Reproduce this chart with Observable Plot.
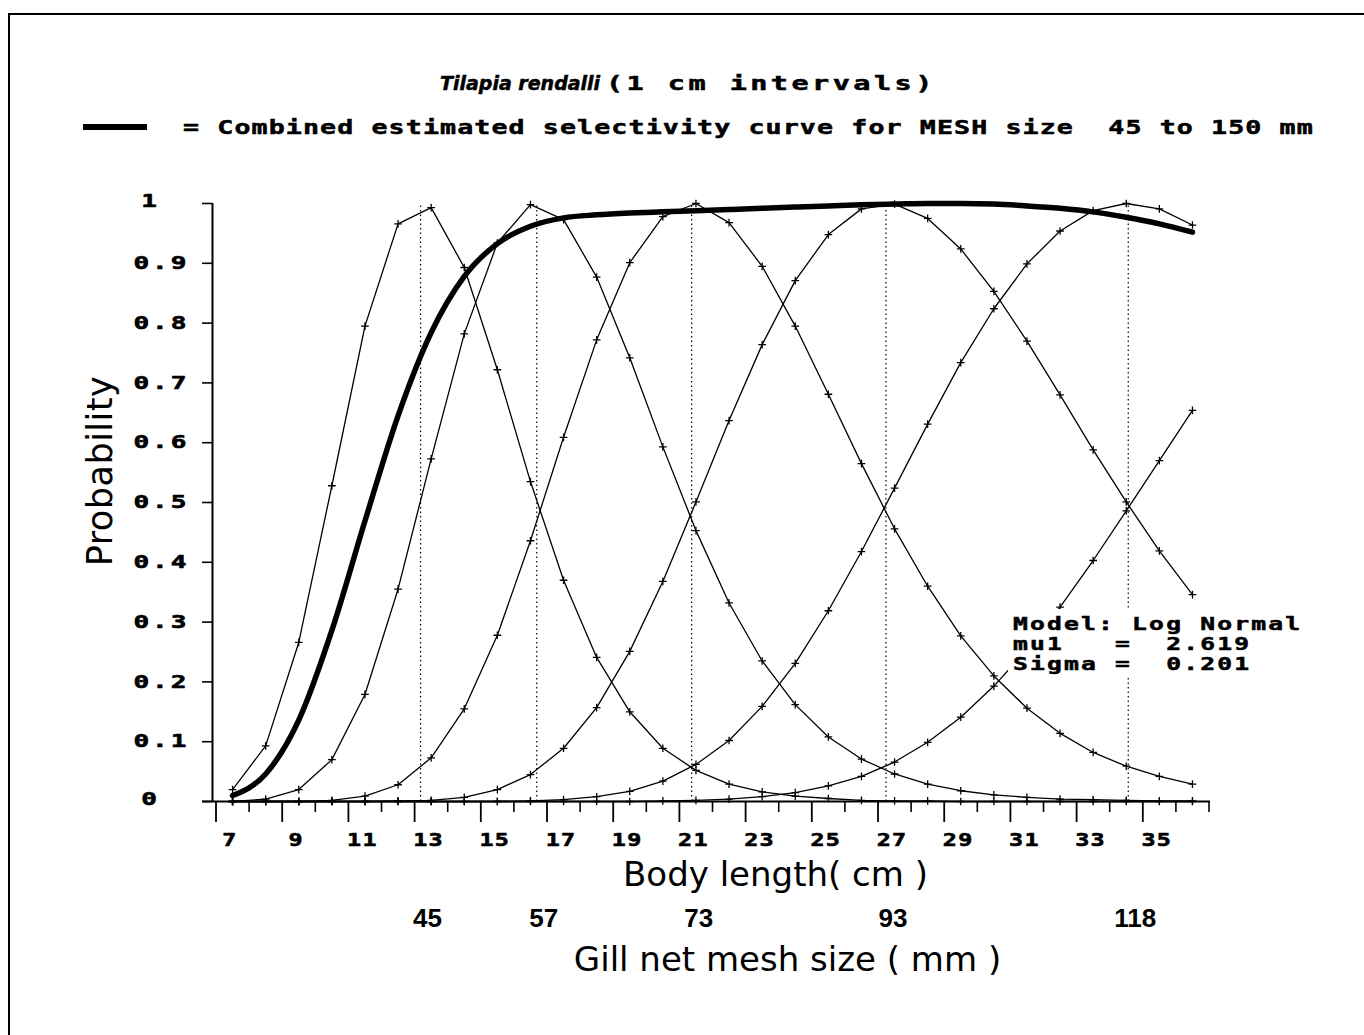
<!DOCTYPE html>
<html>
<head>
<meta charset="utf-8">
<script src="https://cdn.jsdelivr.net/npm/d3@7"></script>
<script src="https://cdn.jsdelivr.net/npm/@observablehq/plot@0.6"></script>
<style>
  body { margin: 0; background: #fff; }
  #wrap { position: relative; width: 1364px; height: 1035px; overflow: hidden; background: #fff; }
  #head { position: relative; width: 1364px; height: 160px; }
  .mono { position: absolute; font-family: "DejaVu Sans Mono", monospace; font-weight: bold; color: #000;
          white-space: pre; line-height: 1; transform-origin: 0 0; -webkit-text-stroke: 0.5px #000; }
  .ital { font-family: "DejaVu Sans", sans-serif; font-style: italic; font-weight: bold; }
  #box { position: absolute; left: 1008px; top: 609px; width: 302px; height: 68px; background: #fff; }
  #ylab { position: absolute; left: 100px; top: 471px; font-family: "DejaVu Sans", sans-serif; font-size: 35px;
          letter-spacing: 0.5px; white-space: pre; transform: translate(-50%, -50%) rotate(-90deg); line-height: 1; }
</style>
</head>
<body>
<div id="wrap">
  <div style="position:absolute;left:9px;top:13px;width:1355px;height:2px;background:#000"></div>
  <div style="position:absolute;left:8px;top:13px;width:2px;height:1022px;background:#000"></div>
  <div id="head">
    <div class="mono" style="left:440px;top:74px;font-size:19px;"><span class="ital">Tilapia rendalli</span></div>
    <div class="mono" style="left:606px;top:74px;font-size:19px;letter-spacing:2.3px;transform:scaleX(1.5)">(1 cm intervals)</div>
    <div style="position:absolute;left:83px;top:124px;width:64px;height:6px;background:#000"></div>
    <div class="mono" style="left:183px;top:118px;font-size:19px;letter-spacing:0.8px;transform:scaleX(1.4)">= Combined estimated selectivity curve for MESH size  45 to 150 mm</div>
  </div>
  <div id="chart"></div>
  <div id="ylab">Probability</div>
  <div id="box">
    <div class="mono" style="left:5px;top:5px;font-size:17px;letter-spacing:1.5px;transform:scaleX(1.45);line-height:20px">Model: Log Normal
mu1   =  2.619
Sigma =  0.201</div>
  </div>
</div>
<script>
// Body length class midpoints (cm)
const lengths = [7.5, 8.5, 9.5, 10.5, 11.5, 12.5, 13.5, 14.5, 15.5, 16.5, 17.5, 18.5, 19.5, 20.5, 21.5,
                 22.5, 23.5, 24.5, 25.5, 26.5, 27.5, 28.5, 29.5, 30.5, 31.5, 32.5, 33.5, 34.5, 35.5, 36.5];
const meshSizes = [45, 57, 73, 93, 118, 150];
const mesh45  = [0.020, 0.093, 0.266, 0.528, 0.795, 0.966, 0.993, 0.893, 0.722, 0.535, 0.370, 0.241, 0.150, 0.089, 0.052,
                 0.029, 0.016, 0.009, 0.005, 0.002, 0.001, 0.001, 0, 0, 0, 0, 0, 0, 0, 0];
const mesh57  = [0.000, 0.004, 0.020, 0.070, 0.179, 0.355, 0.573, 0.782, 0.934, 0.998, 0.973, 0.877, 0.742, 0.593, 0.453,
                 0.332, 0.235, 0.162, 0.108, 0.071, 0.046, 0.029, 0.018, 0.011, 0.007, 0.004, 0.003, 0.002, 0.001, 0.001];
const mesh73  = [0, 0, 0, 0.002, 0.009, 0.028, 0.073, 0.155, 0.278, 0.436, 0.609, 0.772, 0.901, 0.978, 1.000,
                 0.968, 0.895, 0.795, 0.681, 0.565, 0.456, 0.360, 0.277, 0.210, 0.156, 0.114, 0.082, 0.059, 0.042, 0.029];
const mesh93  = [0, 0, 0, 0, 0, 0.001, 0.002, 0.007, 0.020, 0.045, 0.089, 0.157, 0.251, 0.368, 0.501,
                 0.637, 0.764, 0.871, 0.948, 0.991, 0.999, 0.975, 0.924, 0.853, 0.770, 0.680, 0.588, 0.501, 0.419, 0.346];
const mesh118 = [0, 0, 0, 0, 0, 0, 0, 0, 0, 0.001, 0.003, 0.008, 0.017, 0.034, 0.062,
                 0.102, 0.159, 0.231, 0.319, 0.418, 0.524, 0.631, 0.734, 0.824, 0.899, 0.954, 0.988, 1.000, 0.991, 0.964];
const mesh150 = [0, 0, 0, 0, 0, 0, 0, 0, 0, 0, 0, 0, 0, 0.001, 0.002,
                 0.004, 0.008, 0.015, 0.026, 0.042, 0.066, 0.099, 0.141, 0.193, 0.254, 0.325, 0.403, 0.486, 0.570, 0.654];
const combined = [0.010, 0.046, 0.136, 0.286, 0.469, 0.645, 0.784, 0.878, 0.933, 0.962, 0.976, 0.981, 0.984, 0.986, 0.988,
                  0.990, 0.992, 0.994, 0.996, 0.998, 0.999, 1.000, 1.000, 0.999, 0.996, 0.992, 0.986, 0.977, 0.966, 0.952];
// Modal lengths (cm) of the first five mesh curves and their mesh labels
const modeLengths = [13.18, 16.69, 21.37, 27.24, 34.56];
const meshLabels = ["45", "57", "73", "93", "118"];
// Tick values / labels
const yTicks = [0, 0.1, 0.2, 0.3, 0.4, 0.5, 0.6, 0.7, 0.8, 0.9, 1];
const yTickLabels = ["0", "0.1", "0.2", "0.3", "0.4", "0.5", "0.6", "0.7", "0.8", "0.9", "1"];
const xMajorTicks = [7, 9, 11, 13, 15, 17, 19, 21, 23, 25, 27, 29, 31, 33, 35];
const xMinorTicks = [8, 10, 12, 14, 16, 18, 20, 22, 24, 26, 28, 30, 32, 34, 36, 37];
const xDomain = [6.894, 37.045];

const seriesValues = [mesh45, mesh57, mesh73, mesh93, mesh118, mesh150];
const rows = meshSizes.flatMap((m, i) => seriesValues[i].map((p, k) => ({mesh: m, length: lengths[k], p})));
const combinedRows = combined.map((p, k) => ({length: lengths[k], p}));
const yRows = yTicks.map((v, i) => ({v, label: yTickLabels[i]}));
const meshRows = modeLengths.map((l, i) => ({l, label: meshLabels[i]}));

const pix = {fontWeight: "bold", fill: "black", stroke: "black", strokeWidth: 0.6, fontSize: 18};
const XFONT = "DejaVu Sans Mono, monospace";
const YFONT = "DejaVu Sans Mono, mono";

const chart = Plot.plot({
  width: 1364, height: 875,
  marginTop: 43, marginBottom: 234, marginLeft: 212, marginRight: 154,
  x: {domain: xDomain, label: null},
  y: {domain: [0, 1], label: null},
  style: {background: "transparent", color: "black", overflow: "visible"},
  marks: [
    Plot.ruleX(modeLengths, {y1: 0, y2: 1, stroke: "black", strokeWidth: 1.2, strokeDasharray: "1.5,3"}),
    Plot.line(rows, {x: "length", y: "p", z: "mesh", stroke: "black", strokeWidth: 1.3}),
    Plot.dot(rows, {x: "length", y: "p", symbol: "plus", r: 2.6, stroke: "black", strokeWidth: 1.3}),
    Plot.line(combinedRows, {x: "length", y: "p", stroke: "black", strokeWidth: 5.5, curve: "monotone-x",
      strokeLinejoin: "round", strokeLinecap: "round"}),
    Plot.ruleY([0], {insetLeft: -10, stroke: "black", strokeWidth: 2}),
    Plot.ruleX([xDomain[0]], {y1: 0, y2: 1, stroke: "black", strokeWidth: 2}),
    Plot.axisY({ticks: yTicks, tickSize: 10, fill: "none", label: null, strokeWidth: 1.6}),
    Plot.axisX({ticks: xMajorTicks, tickSize: 21, fill: "none", label: null, strokeWidth: 1.8}),
    Plot.axisX({ticks: xMinorTicks, tickSize: 11, fill: "none", label: null, strokeWidth: 1.6}),
    // tick labels
    Plot.text(xMajorTicks, {x: d => d, text: d => String(d), frameAnchor: "bottom", dy: 44, dx: 14,
      ...pix, fontFamily: XFONT}),
    Plot.text(yRows.filter(d => d.label.length > 1), {y: "v", text: "label", frameAnchor: "left", textAnchor: "start",
      dx: -79, ...pix, fontFamily: YFONT}),
    Plot.text(yRows.filter(d => d.label.length === 1), {y: "v", text: "label", frameAnchor: "left", textAnchor: "middle",
      dx: -62, dy: -2, ...pix, fontFamily: YFONT}),
    // axis titles and mesh sizes
    Plot.text(["Body length( cm )"], {frameAnchor: "bottom", dx: 64, dy: 84, fontSize: 34, fontFamily: "DejaVu Sans"}),
    Plot.text(meshRows, {x: "l", text: "label", frameAnchor: "bottom", dy: 125, dx: 7, fontSize: 26,
      fontFamily: "Liberation Sans Narrow, Liberation Sans", fontWeight: "bold"}),
    Plot.text(["Gill net mesh size ( mm )"], {frameAnchor: "bottom", dx: 76, dy: 169, fontSize: 34, fontFamily: "DejaVu Sans"})
  ]
});
document.getElementById("chart").appendChild(chart);

// widen the blocky tick-label glyphs horizontally, like the original bitmap font
function stretch(family, s, spacing) {
  d3.select(chart).selectAll("g").filter(function() { return this.getAttribute("font-family") === family; })
    .selectAll("text").each(function() {
      this.setAttribute("letter-spacing", spacing);
      const t = this.getAttribute("transform");
      if (t) this.setAttribute("transform", t + ` scale(${s},1)`);
      else {
        const x = this.getAttribute("x") || 0, y = this.getAttribute("y") || 0;
        this.removeAttribute("x"); this.removeAttribute("y");
        this.setAttribute("transform", `translate(${x},${y}) scale(${s},1)`);
      }
    });
}
stretch(XFONT, 1.3, 1);
stretch(YFONT, 1.45, 2);
</script>
</body>
</html>
